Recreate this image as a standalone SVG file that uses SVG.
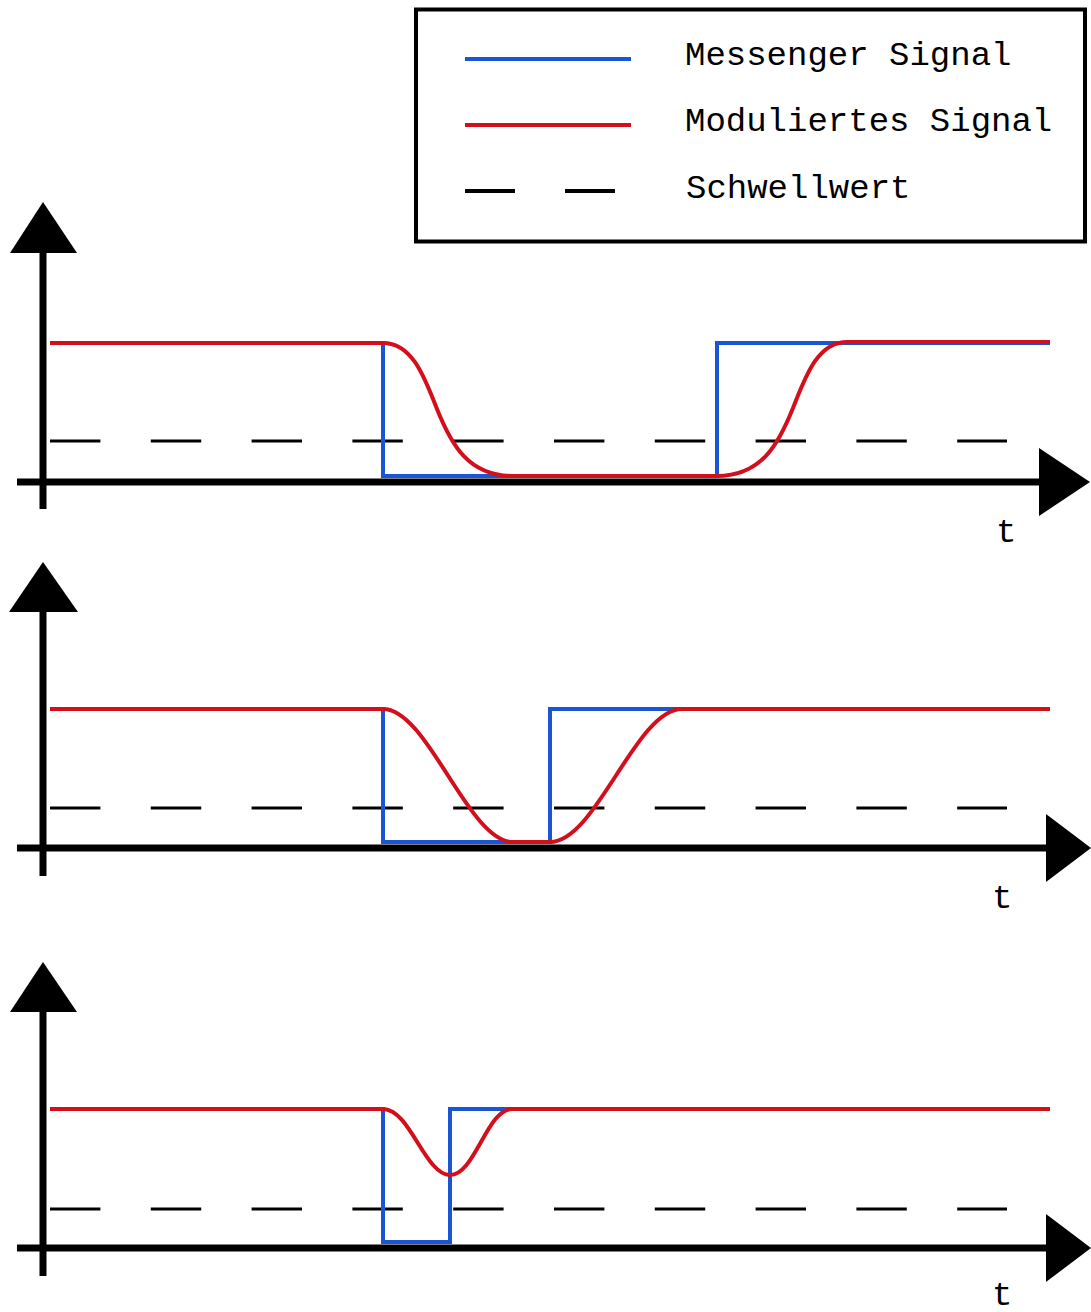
<svg xmlns="http://www.w3.org/2000/svg" width="1091" height="1312" viewBox="0 0 1091 1312">
<style>
.axis{stroke:#000;stroke-width:7;fill:none}
.head{fill:#000;stroke:none}
.blue{stroke:#1955d4;stroke-width:4;fill:none}
.red{stroke:#d40f1c;stroke-width:4;fill:none}
.thr{stroke:#000;stroke-width:3.2;fill:none;stroke-dasharray:50.4 50.4}
.lbl{font-family:"Liberation Mono","Courier New",monospace;font-size:34px;fill:#000}
</style>
<rect width="1091" height="1312" fill="#fff"/>
<g id="legend">
<rect x="416" y="9.5" width="669" height="232" fill="#fff" stroke="#000" stroke-width="4"/>
<line x1="465" y1="59" x2="631" y2="59" class="blue"/>
<line x1="465" y1="125" x2="631" y2="125" class="red"/>
<line x1="465" y1="191" x2="615" y2="191" stroke="#000" stroke-width="4" stroke-dasharray="50 50"/>
<text x="685" y="65" class="lbl">Messenger Signal</text>
<text x="685" y="131" class="lbl">Moduliertes Signal</text>
<text x="686" y="198" class="lbl">Schwellwert</text>
</g>
<g id="plot1">
<line x1="43" y1="245" x2="43" y2="509" class="axis"/>
<polygon points="43,202 77,253 10,253" class="head"/>
<line x1="17" y1="482" x2="1045" y2="482" class="axis"/>
<polygon points="1039,448 1090,482 1039,516" class="head"/>
<text x="996" y="542" class="lbl">t</text>
<line x1="50" y1="441" x2="1007" y2="441" class="thr"/>
<path d="M50,343 H383 V476 H717 V343 H1050" class="blue"/>
<path d="M50,343 H383 C413,343 425,379 437,409 C451,444 468,476 513,476 H717 C762,476 779,443 793,408 C805,378 817,342 847,342 H1050" class="red"/>
</g>
<g id="plot2">
<line x1="43" y1="605" x2="43" y2="876" class="axis"/>
<polygon points="43,562 78,612 9,612" class="head"/>
<line x1="17" y1="848" x2="1050" y2="848" class="axis"/>
<polygon points="1046,814 1091,848 1046,882" class="head"/>
<text x="992" y="908" class="lbl">t</text>
<line x1="50" y1="808" x2="1007" y2="808" class="thr"/>
<path d="M50,709 H383 V842 H550 V709 H1050" class="blue"/>
<path d="M50,709 H383 C428,709 468,842 513,842 H550 C596,842 636,709 682,709 H1050" class="red"/>
</g>
<g id="plot3">
<line x1="43" y1="1005" x2="43" y2="1276" class="axis"/>
<polygon points="43,962 77,1012 10,1012" class="head"/>
<line x1="17" y1="1248" x2="1050" y2="1248" class="axis"/>
<polygon points="1046,1214 1091,1248 1046,1282" class="head"/>
<text x="992" y="1305" class="lbl">t</text>
<line x1="50" y1="1209" x2="1007" y2="1209" class="thr"/>
<path d="M50,1109 H383 V1242 H450 V1109 H1050" class="blue"/>
<path d="M50,1109 H383 C410,1109 425,1175 450,1175 C475,1175 487,1109 512,1109 H1050" class="red"/>
</g>
<g id="connectors"></g>
</svg>
